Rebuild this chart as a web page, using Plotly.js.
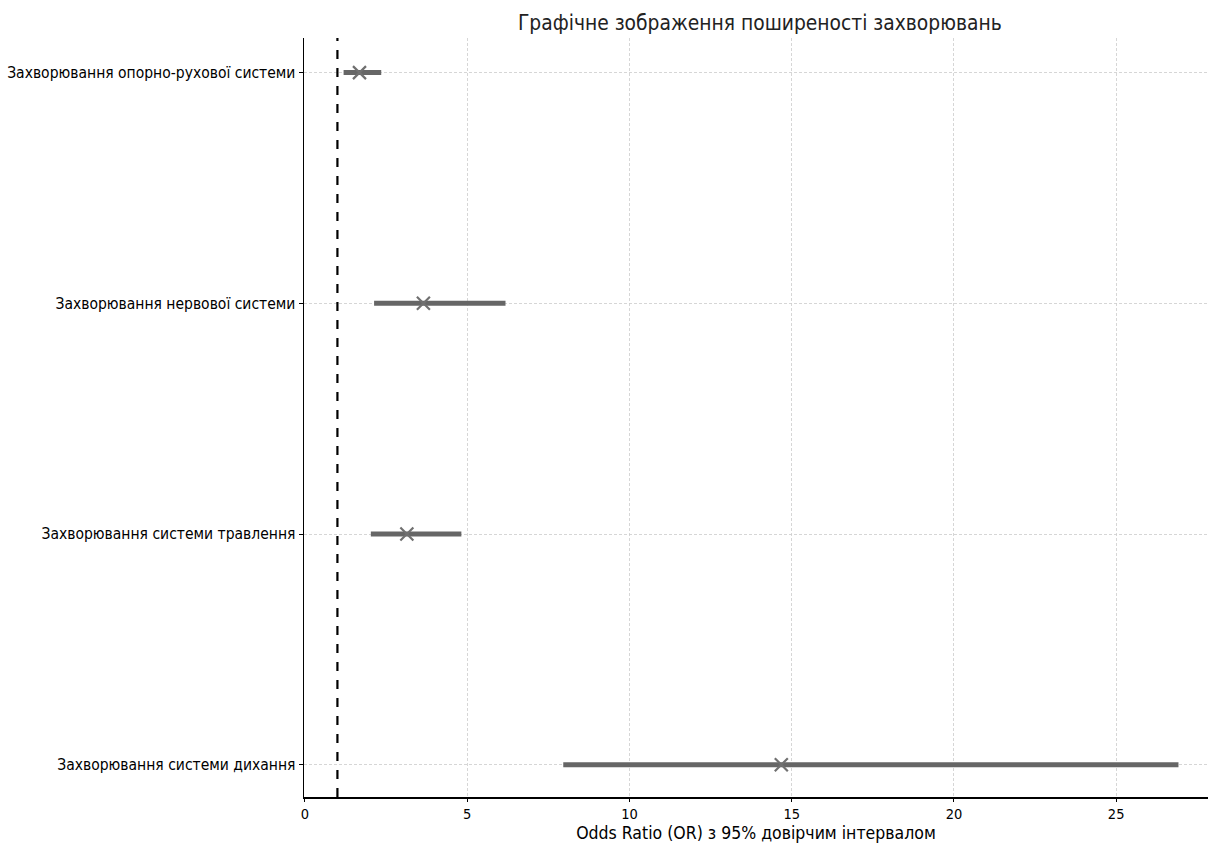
<!DOCTYPE html>
<html>
<head>
<meta charset="utf-8">
<script src="https://cdn.plot.ly/plotly-3.0.1.min.js"></script>
<style>html,body{margin:0;padding:0;background:#fff;}</style>
</head>
<body>
<div id="chart" style="width:1208px;height:843px;"></div>
<script>
const categories = [
  "Захворювання системи дихання",
  "Захворювання системи травлення",
  "Захворювання нервової системи",
  "Захворювання опорно-рухової системи"
];
const orValues = [14.68, 3.14, 3.65, 1.68];
const ciLower = [7.96, 2.03, 2.13, 1.19];
const ciUpper = [26.92, 4.82, 6.18, 2.35];
const xTicks = [0, 5, 10, 15, 20, 25];

const font = "DejaVu Sans Condensed, DejaVu Sans, sans-serif";

const ciX = [], ciY = [];
categories.forEach((c, i) => {
  ciX.push(ciLower[i], ciUpper[i], null);
  ciY.push(c, c, null);
});

const traces = [
  {
    type: "scatter", mode: "lines", x: ciX, y: ciY,
    line: {color: "#666666", width: 5}, hoverinfo: "skip", showlegend: false
  },
  {
    type: "scatter", mode: "markers", x: orValues, y: categories,
    marker: {symbol: "x-thin", size: 13, line: {color: "#707070", width: 2.2}, color: "#707070"},
    showlegend: false
  }
];

const layout = {
  width: 1208, height: 843,
  margin: {l: 304, r: 0, t: 38, b: 46},
  paper_bgcolor: "#fff", plot_bgcolor: "#fff",
  font: {family: font, size: 15.5, color: "#000"},
  title: {text: "Графічне зображення поширеності захворювань", font: {family: font, size: 20.8, color: "#222"},
          x: 0.629, xanchor: "center", y: 0.973, yanchor: "middle"},
  xaxis: {
    range: [-0.03, 27.83], tickvals: xTicks, ticktext: xTicks.map(String),
    showgrid: true, gridcolor: "#cccccc", griddash: "3px,2px", gridwidth: 0.8,
    zeroline: false, showline: true, linecolor: "#000", linewidth: 1.5,
    ticks: "outside", ticklen: 3, tickcolor: "#000",
    tickfont: {family: font, size: 14.5, color: "#000"},
    title: {text: "Odds Ratio (OR) з 95% довірчим інтервалом", font: {family: font, size: 17.5, color: "#000"}, standoff: 6}
  },
  yaxis: {
    type: "category", categoryorder: "array", categoryarray: categories,
    range: [-0.14, 3.15],
    showgrid: true, gridcolor: "#cccccc", griddash: "3px,2px", gridwidth: 0.8,
    zeroline: false, showline: true, linecolor: "#000", linewidth: 1.5,
    ticks: "outside", ticklen: 4, tickcolor: "#000",
    tickfont: {family: font, size: 15.5, color: "#000"}
  },
  shapes: [{
    type: "line", xref: "x", yref: "paper", x0: 1, x1: 1, y0: 0, y1: 1,
    line: {color: "#000", width: 2.2, dash: "dash"}
  }]
};

Plotly.newPlot("chart", traces, layout, {displayModeBar: false, staticPlot: true});
</script>
</body>
</html>
